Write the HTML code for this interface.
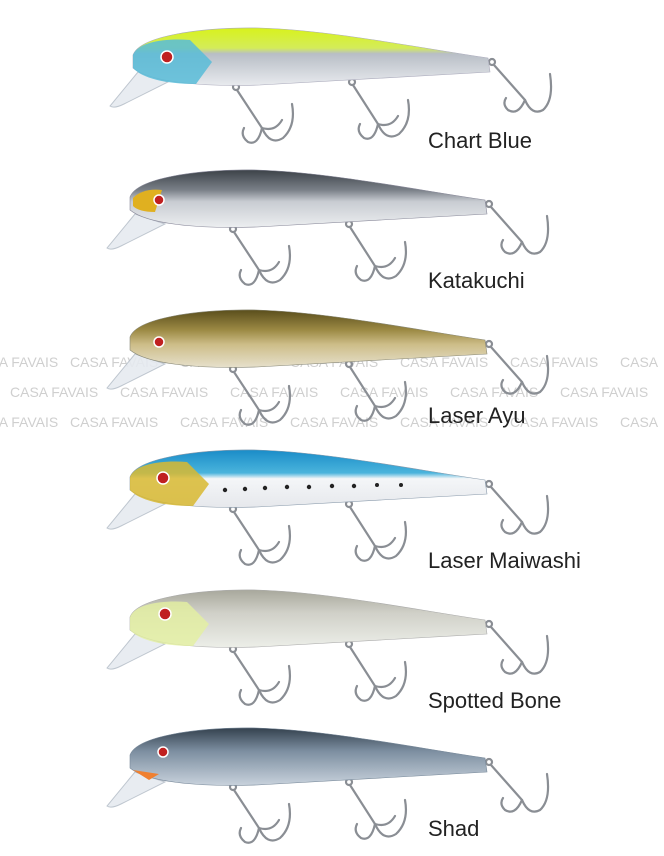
<!DOCTYPE html>
<html><head><meta charset="utf-8"><style>
html,body{margin:0;padding:0;background:#fff;width:664px;height:856px;overflow:hidden}
svg{display:block}
</style></head><body>
<svg width="664" height="856" viewBox="0 0 664 856" xmlns="http://www.w3.org/2000/svg">
<defs>
<linearGradient id="g1" x1="0" y1="0" x2="0" y2="1"><stop offset="0" stop-color="#d8f21c"/><stop offset="0.35" stop-color="#d4ec5a"/><stop offset="0.45" stop-color="#b8bec6"/><stop offset="1" stop-color="#e8eaee"/></linearGradient>
<linearGradient id="g2" x1="0" y1="0" x2="0" y2="1"><stop offset="0" stop-color="#3c4248"/><stop offset="0.35" stop-color="#7a8088"/><stop offset="0.55" stop-color="#c8ccd2"/><stop offset="1" stop-color="#eceef0"/></linearGradient>
<linearGradient id="g3" x1="0" y1="0" x2="0" y2="1"><stop offset="0" stop-color="#5a4e1c"/><stop offset="0.35" stop-color="#9c8a44"/><stop offset="0.6" stop-color="#cdbd88"/><stop offset="1" stop-color="#e6e0cc"/></linearGradient>
<linearGradient id="g4" x1="0" y1="0" x2="0" y2="1"><stop offset="0" stop-color="#1a8cc8"/><stop offset="0.4" stop-color="#4ab4dc"/><stop offset="0.5" stop-color="#f4f6f8"/><stop offset="1" stop-color="#e6e8ec"/></linearGradient>
<linearGradient id="g5" x1="0" y1="0" x2="0" y2="1"><stop offset="0" stop-color="#a8a89c"/><stop offset="0.4" stop-color="#d0d0c8"/><stop offset="1" stop-color="#eceee8"/></linearGradient>
<linearGradient id="g6" x1="0" y1="0" x2="0" y2="1"><stop offset="0" stop-color="#34414e"/><stop offset="0.4" stop-color="#7c8ea0"/><stop offset="1" stop-color="#c8d2dc"/></linearGradient>
<g id="hooks" fill="none" stroke="#8a8e94" stroke-width="2.2" stroke-linecap="round">
<circle cx="236" cy="87" r="3"/>
<path d="M237,90 L262,128 Q270,146 283,138 Q296,126 292,104"/>
<path d="M262,128 Q258,146 248,142 Q240,136 244,128"/>
<path d="M262,128 Q275,132 282,120"/>
<circle cx="352" cy="82" r="3"/>
<path d="M353,85 L378,124 Q386,142 399,134 Q412,122 408,100"/>
<path d="M378,124 Q374,142 364,138 Q356,132 360,124"/>
<path d="M378,124 Q391,128 398,116"/>
<circle cx="492" cy="62" r="3"/>
<path d="M494,65 L525,100 Q532,116 543,110 Q554,100 550,74"/>
<path d="M525,100 Q518,116 508,110 Q502,104 506,98"/>
</g>
<path id="lip" d="M138,72 L110,106 Q114,109 124,104 L168,82 Z" fill="#e6eaf0" stroke="#b8c0ca" stroke-width="1" opacity="0.9"/>
<path id="body" d="M133,55 C140,36 200,27 260,28 C330,30 420,48 488,58 L490,72 L260,85 C200,87 150,82 133,68 Z"/>
<path id="head" d="M133,55 C138,42 165,38 190,40 L212,62 L196,84 C165,84 142,78 133,68Z"/>
</defs>

<g font-family="Liberation Sans, sans-serif" font-size="14" fill="#cfcfcf">
<text x="-30" y="367">CASA FAVAIS</text><text x="70" y="367">CASA FAVAIS</text><text x="180" y="367">CASA FAVAIS</text><text x="290" y="367">CASA FAVAIS</text><text x="400" y="367">CASA FAVAIS</text><text x="510" y="367">CASA FAVAIS</text><text x="620" y="367">CASA</text>
<text x="10" y="397">CASA FAVAIS</text><text x="120" y="397">CASA FAVAIS</text><text x="230" y="397">CASA FAVAIS</text><text x="340" y="397">CASA FAVAIS</text><text x="450" y="397">CASA FAVAIS</text><text x="560" y="397">CASA FAVAIS</text>
<text x="-30" y="427">CASA FAVAIS</text><text x="70" y="427">CASA FAVAIS</text><text x="180" y="427">CASA FAVAIS</text><text x="290" y="427">CASA FAVAIS</text><text x="400" y="427">CASA FAVAIS</text><text x="510" y="427">CASA FAVAIS</text><text x="620" y="427">CASA</text>
</g>

<g transform="translate(0,0)"><use href="#hooks"/><use href="#lip"/><use href="#body" fill="url(#g1)" stroke="#aab" stroke-width="0.6"/><use href="#head" fill="#58bcd8" opacity="0.85"/><circle cx="167" cy="57" r="6" fill="#c02020" stroke="#fff" stroke-width="1.5"/></g>
<g transform="translate(-3,142)"><use href="#hooks"/><use href="#lip"/><use href="#body" fill="url(#g2)" stroke="#889" stroke-width="0.6"/><path d="M136,56 Q146,46 165,48 L158,70 Q142,70 136,64Z" fill="#e0b020"/><circle cx="162" cy="58" r="5" fill="#c02020" stroke="#fff" stroke-width="1.5"/></g>
<g transform="translate(-3,282)"><use href="#hooks"/><use href="#lip"/><use href="#body" fill="url(#g3)" stroke="#887" stroke-width="0.6"/><circle cx="162" cy="60" r="5" fill="#c02020" stroke="#fff" stroke-width="1.5"/></g>
<g transform="translate(-3,422)"><use href="#hooks"/><use href="#lip"/><use href="#body" fill="url(#g4)" stroke="#89a" stroke-width="0.6"/><use href="#head" fill="#d8b830" opacity="0.85"/><circle cx="166" cy="56" r="6" fill="#c02020" stroke="#fff" stroke-width="1.5"/>
<g fill="#222"><circle cx="228" cy="68" r="2.2"/><circle cx="248" cy="67" r="2.2"/><circle cx="268" cy="66" r="2.2"/><circle cx="290" cy="65" r="2.2"/><circle cx="312" cy="65" r="2.2"/><circle cx="335" cy="64" r="2.2"/><circle cx="357" cy="64" r="2.2"/><circle cx="380" cy="63" r="2"/><circle cx="404" cy="63" r="2"/></g></g>
<g transform="translate(-3,562)"><use href="#hooks"/><use href="#lip"/><use href="#body" fill="url(#g5)" stroke="#aaa" stroke-width="0.6"/><use href="#head" fill="#e4f0a0" opacity="0.8"/><circle cx="168" cy="52" r="6" fill="#c02020" stroke="#fff" stroke-width="1.5"/></g>
<g transform="translate(-3,700)"><use href="#hooks"/><use href="#lip"/><use href="#body" fill="url(#g6)" stroke="#789" stroke-width="0.6"/><path d="M136,70 L162,74 L152,80Z" fill="#f08030"/><circle cx="166" cy="52" r="5" fill="#c02020" stroke="#fff" stroke-width="1.5"/></g>

<g font-family="Liberation Sans, sans-serif" font-size="22" fill="#222">
<text x="428" y="148">Chart Blue</text>
<text x="428" y="288">Katakuchi</text>
<text x="428" y="423">Laser Ayu</text>
<text x="428" y="568">Laser Maiwashi</text>
<text x="428" y="708">Spotted Bone</text>
<text x="428" y="836">Shad</text>
</g>
</svg>
</body></html>
